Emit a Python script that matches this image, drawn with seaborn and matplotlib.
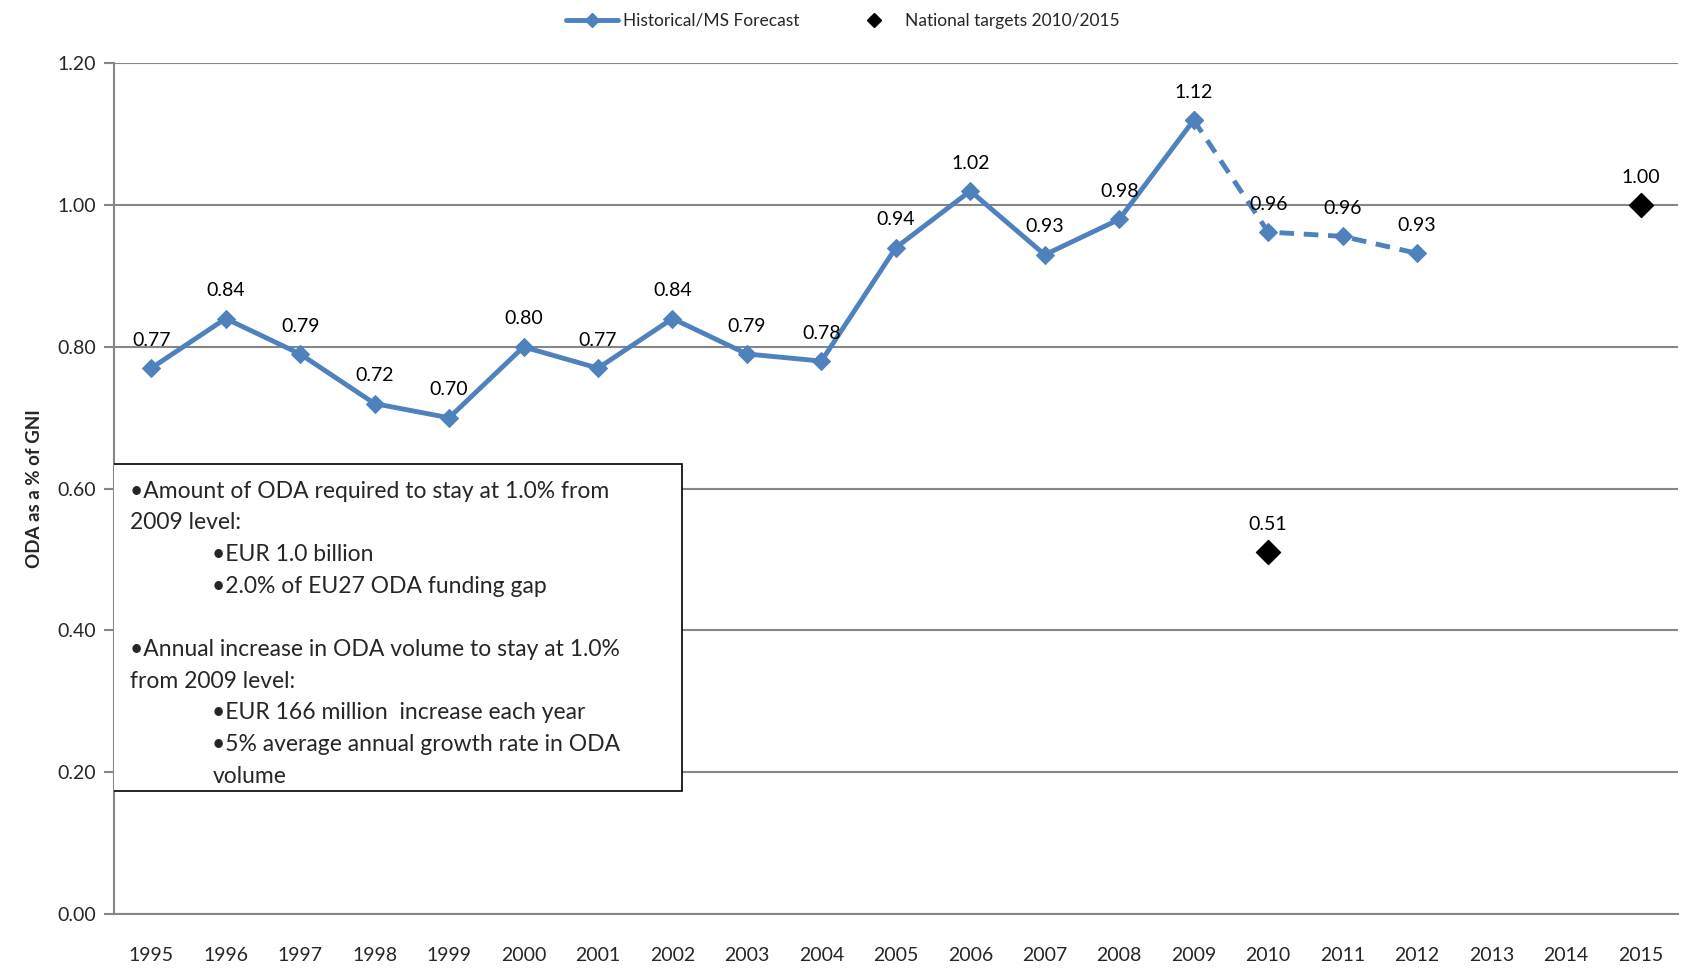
import numpy as np
import pandas as pd
import matplotlib
matplotlib.use('Agg')
import matplotlib.pyplot as plt
from matplotlib.lines import Line2D
import seaborn as sns

# data
years = list(range(1995, 2016))
hist_years = list(range(1995, 2010))
hist_values = [0.77, 0.84, 0.79, 0.72, 0.70, 0.80, 0.77, 0.84, 0.79, 0.78,
               0.94, 1.02, 0.93, 0.98, 1.12]
fc_years = [2009, 2010, 2011, 2012]
fc_values = [1.12, 0.962, 0.956, 0.932]
target_years = [2010, 2015]
target_values = [0.51, 1.00]
yticks = [0.0, 0.2, 0.4, 0.6, 0.8, 1.0, 1.2]

box_lines = [
    (0, '•Amount of ODA required to stay at 1.0% from'),
    (0, '2009 level:'),
    (1, '•EUR 1.0 billion'),
    (1, '•2.0% of EU27 ODA funding gap'),
    (0, ''),
    (0, '•Annual increase in ODA volume to stay at 1.0%'),
    (0, 'from 2009 level:'),
    (1, '•EUR 166 million  increase each year'),
    (1, '•5% average annual growth rate in ODA'),
    (1, 'volume'),
]

blue = '#4F81BD'
grey = '#868686'

sns.set_style('white')
plt.rcParams['font.family'] = ['Lato', 'DejaVu Sans']

fig = plt.figure(figsize=(16.86, 9.72), dpi=100)
ax = fig.add_axes([0.0676, 0.0597, 0.9275, 0.8751])

hist = pd.DataFrame({'year': hist_years, 'value': hist_values})
fc = pd.DataFrame({'year': fc_years, 'value': fc_values})
tg = pd.DataFrame({'year': target_years, 'value': target_values})

sns.lineplot(data=hist, x='year', y='value', ax=ax, color=blue, linewidth=3.5,
             marker='D', markersize=9, markeredgecolor=blue, sort=False, zorder=3)
sns.lineplot(data=fc, x='year', y='value', ax=ax, color=blue, linewidth=3.5,
             marker='D', markersize=9, markeredgecolor=blue, sort=False,
             dashes=False, zorder=3)
ax.lines[-1].set_dashes((3, 2))
sns.scatterplot(data=tg, x='year', y='value', ax=ax, color='black', marker='D',
                s=150, edgecolor='black', zorder=4)

# data labels
all_years = hist_years + fc_years[1:] + target_years
all_vals = hist_values + fc_values[1:] + target_values
for x, y in zip(all_years, all_vals):
    ax.annotate(f'{y:.2f}', (x, y), xytext=(0, 14), textcoords='offset points',
                ha='center', va='bottom', fontsize=14, color='black')

ax.set_xlim(1994.5, 2015.5)
ax.set_ylim(0, 1.2)
ax.set_yticks(yticks)
ax.set_yticklabels([f'{v:.2f}' for v in yticks], fontsize=14)
ax.set_xticks(years)
ax.set_xticklabels([str(y) for y in years], fontsize=14)
ax.set_xticks(np.arange(1994.5, 2016, 1), minor=True)
ax.tick_params(axis='x', which='major', length=0, pad=24)
ax.tick_params(axis='x', which='minor', length=7, width=1.5, color=grey, direction='out')
ax.tick_params(axis='y', length=7, width=1.5, color=grey, direction='out', left=True, pad=6)
ax.grid(axis='y', color=grey, linewidth=1.5)
ax.grid(axis='x', visible=False)
for s in ['top', 'right']:
    ax.spines[s].set_visible(False)
for s in ['left', 'bottom']:
    ax.spines[s].set_color(grey)
    ax.spines[s].set_linewidth(1.5)
ax.set_xlabel('')
ax.set_ylabel('ODA as a % of GNI', fontsize=13.5, fontweight='bold', labelpad=10)

# text box
box = plt.Rectangle((-0.001, 0.1446), 0.364, 0.3844, transform=ax.transAxes,
                    facecolor='white', edgecolor='black', linewidth=1.2, zorder=5)
ax.add_patch(box)
y0 = 0.497
for i, (lvl, txt) in enumerate(box_lines):
    ax.text(0.010 + lvl * 0.053, y0 - i * 0.0372, txt, transform=ax.transAxes,
            fontsize=16.5, va='center', ha='left', zorder=6)

handles = [Line2D([0], [0], color=blue, linewidth=3.5, marker='D', markersize=7),
           Line2D([0], [0], color='black', linestyle='none', marker='D', markersize=7)]
fig.legend(handles, ['Historical/MS Forecast', 'National targets 2010/2015'],
           loc='upper center', bbox_to_anchor=(0.5, 1.003), ncol=2, frameon=False,
           fontsize=12.5, handlelength=3, handletextpad=0.3, columnspacing=2.8)

fig.savefig('out.png', dpi=100)
